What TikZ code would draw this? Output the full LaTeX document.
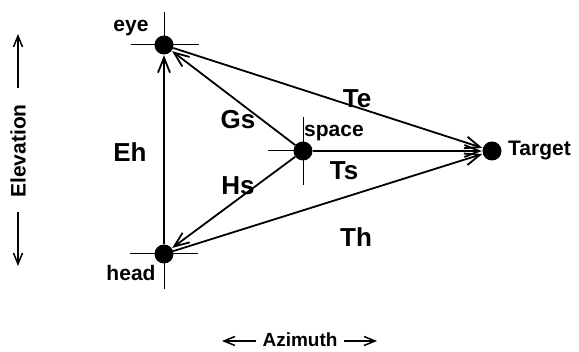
\documentclass[tikz,border=0pt]{standalone}
\usepackage{fontspec}
\setmainfont{Liberation Sans}
\usetikzlibrary{arrows.meta}
\begin{document}
\begin{tikzpicture}[x=1pt,y=-1pt,
  dot/.style={circle,fill=black,inner sep=0pt,minimum size=19pt},
  big/.style={font=\fontsize{26}{28}\selectfont\bfseries,inner sep=0pt},
  small/.style={font=\fontsize{21}{23}\selectfont\bfseries,inner sep=0pt},
  conn/.style={line width=1.8pt,-{Straight Barb[length=15pt,width=12pt,line width=1.8pt]},shorten >=0.5pt},
  hair/.style={line width=1pt},
  axis/.style={line width=1.5pt,-{Straight Barb[length=11pt,width=9pt,line width=1.5pt]}}]
\useasboundingbox (0,0) rectangle (579,352);
\node[dot] (eye) at (164,45) {};
\node[dot] (head) at (164,254) {};
\node[dot] (space) at (303,151) {};
\node[dot] (target) at (492,151) {};
% crosshairs
\coordinate (eyeL) at (131,45); \coordinate (eyeR) at (199,45); \coordinate (eyeT) at (164,12);
\coordinate (headL) at (130,254); \coordinate (headR) at (198,254); \coordinate (headB) at (164,289);
\coordinate (spL) at (268,151); \coordinate (spT) at (303,117); \coordinate (spB) at (303,185);
\draw[hair] (eyeL) -- (eyeR) (eyeT) -- (eye.center);
\draw[hair] (headL) -- (headR) (headB) -- (head.center);
\draw[hair] (spL) -- (space.center) (spT) -- (spB);
% connectors
\draw[conn] (head) -- (eye);
\draw[conn] (space) -- (eye);
\draw[conn] (eye) -- (target);
\draw[conn] (space) -- (head);
\draw[conn] (head) -- (target);
\draw[conn] (space) -- (target);
% labels
\node[small] (leye) at (131,28) {eye};
\node[small] (lhead) at (131,273) {head};
\node[small] (lspace) at (334,133) {space};
\node[small,anchor=west] (ltarget) at (508,151) {Target};
\node[big] (lte) at (357,99) {Te};
\node[big] (lgs) at (238,120) {Gs};
\node[big] (leh) at (130,152) {Eh};
\node[big] (lhs) at (238,186) {Hs};
\node[big] (lts) at (344,171) {Ts};
\node[big] (lth) at (356,237) {Th};
\node[small,rotate=90] (lelev) at (18,151) {Elevation};
\node[small,font=\fontsize{19}{21}\selectfont\bfseries] (lazi) at (300,340) {Azimuth};
% axis arrows
\coordinate (u0) at (18,88); \coordinate (u1) at (18,34);
\coordinate (d0) at (18,212); \coordinate (d1) at (18,266);
\coordinate (l0) at (256,341); \coordinate (l1) at (222,341);
\coordinate (r0) at (344,341); \coordinate (r1) at (377,341);
\draw[axis] (u0) -- (u1);
\draw[axis] (d0) -- (d1);
\draw[axis] (l0) -- (l1);
\draw[axis] (r0) -- (r1);
\end{tikzpicture}
\end{document}
